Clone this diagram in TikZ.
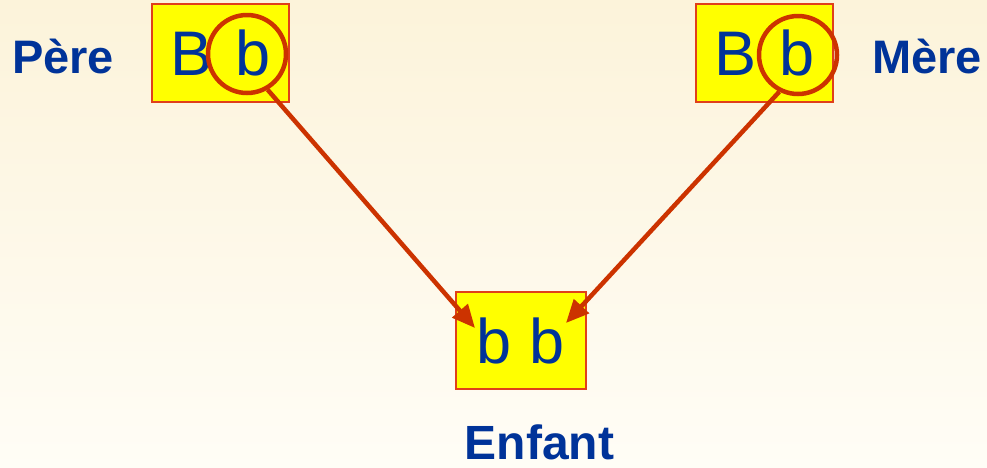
\documentclass[tikz,border=0pt]{standalone}
\usepackage{fontspec}
\setmainfont{Liberation Sans}
\usetikzlibrary{arrows.meta}
\definecolor{txtblue}{HTML}{003399}
\definecolor{redline}{HTML}{CC3300}
\definecolor{boxline}{HTML}{E0401A}
\definecolor{yfill}{RGB}{255,255,0}
\definecolor{bgtop}{HTML}{FCF3DA}
\definecolor{bgbot}{HTML}{FFFDF6}
\begin{document}
\begin{tikzpicture}[x=1pt,y=1pt,
 allele/.style={draw=boxline, line width=1.5pt, fill=yfill, text=txtblue, font=\fontsize{63}{63}\selectfont, inner sep=0pt},
 ring/.style={circle, draw=redline, line width=4.5pt, minimum size=78pt, inner sep=0pt},
 lbl/.style={text=txtblue, font=\bfseries\fontsize{47}{47}\selectfont, inner sep=0pt},
 arr/.style={draw=redline, line width=4.5pt, -{Triangle[length=23pt,width=20pt]}}]
\shade[top color=bgtop,bottom color=bgbot] (0,0) rectangle (987,-467);
\useasboundingbox (0,0) rectangle (987,-467);
% boxes
\node[allele, minimum width=137pt, minimum height=98pt] (pb) at (220.5,-53) {B\hspace{5pt} b};
\node[allele, minimum width=137pt, minimum height=98pt] (mb) at (764.5,-53) {B\hspace{5pt} b};
\node[allele, minimum width=130pt, minimum height=97pt] (cb) at (521,-340.5) {b\hspace{0.5pt} b};
% circles
\node[ring] (lc) at (247,-54) {};
\node[ring] (rc) at (798,-55) {};
% labels
\node[lbl, anchor=base west] (pere) at (12,-73) {Père};
\node[lbl, anchor=base west] (mere) at (872,-73) {Mère};
\node[lbl, anchor=base, font=\bfseries\fontsize{48}{48}\selectfont] (enfant) at (539.5,-459) {Enfant};
% arrows
\coordinate (ltip) at (475,-328);
\coordinate (rtip) at (566,-323);
\draw[arr] (lc.-60) -- (ltip);
\draw[arr] (rc.-117) -- (rtip);
\end{tikzpicture}
\end{document}
